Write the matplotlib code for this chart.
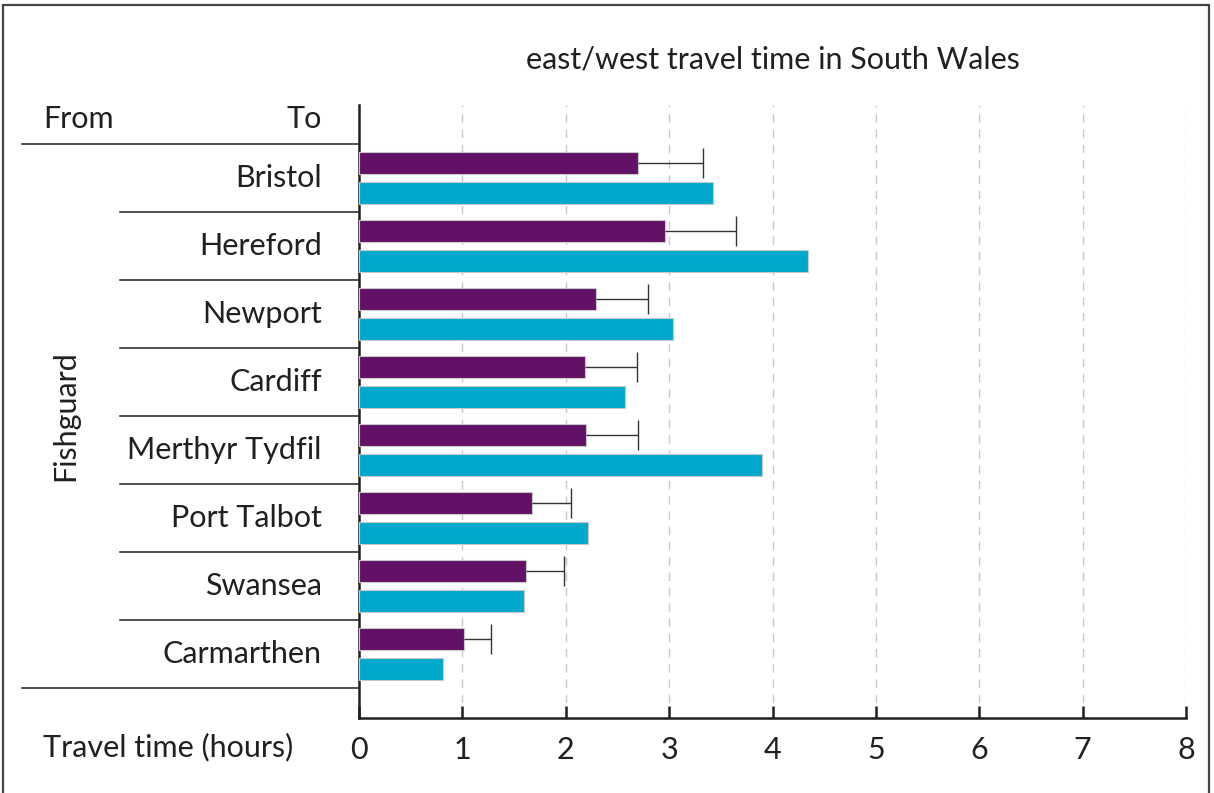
import matplotlib
matplotlib.use("Agg")
import matplotlib.pyplot as plt
import numpy as np
from matplotlib.patches import Rectangle

plt.rcParams["font.family"] = ["Lato", "DejaVu Sans"]

destinations = ["Bristol", "Hereford", "Newport", "Cardiff", "Merthyr Tydfil",
                "Port Talbot", "Swansea", "Carmarthen"]
# purple series with upper error, cyan series
purple = [2.70, 2.96, 2.29, 2.19, 2.20, 1.67, 1.62, 1.02]
purple_err = [0.63, 0.69, 0.51, 0.50, 0.50, 0.38, 0.36, 0.26]
cyan = [3.42, 4.34, 3.04, 2.57, 3.90, 2.22, 1.60, 0.81]
x_ticks = [0, 1, 2, 3, 4, 5, 6, 7, 8]

PURPLE = "#611166"
CYAN = "#00a9cc"
INK = "#231f20"
FS = 22

fig = plt.figure(figsize=(12.14, 7.93), dpi=100)
ax = fig.add_axes([359 / 1214, 1 - 718 / 793, 827 / 1214, 613 / 793])

y = np.arange(len(destinations))
h = 0.33
ax.barh(y - 0.22, purple, height=h, color=PURPLE, edgecolor="#c8c8c8", lw=0.8, zorder=3)
ax.barh(y + 0.22, cyan, height=h, color=CYAN, edgecolor="#c8c8c8", lw=0.8, zorder=3)

# one-sided error bars (upper only)
p = np.array(purple)
e = np.array(purple_err)
ax.hlines(y - 0.22, p, p + e, color="#333333", lw=1.0, zorder=4)
ax.vlines(p + e, y - 0.22 - 0.22, y - 0.22 + 0.22, color="#333333", lw=1.0, zorder=4)

ax.set_xlim(0, 8)
ax.set_ylim(7.5 + 30 / 68, -0.5 - 39 / 68)
ax.set_xticks(x_ticks)
ax.set_xticklabels([str(t) for t in x_ticks], fontsize=FS, color=INK)
ax.set_yticks([])
ax.tick_params(axis="x", direction="in", length=9, width=1.8, color=INK, pad=13)
for t in x_ticks[1:]:
    ax.axvline(t, color="#c8c8c8", lw=1.0, ls=(0, (6, 5)), zorder=1)

for s in ["top", "right"]:
    ax.spines[s].set_visible(False)
for s in ["left", "bottom"]:
    ax.spines[s].set_color(INK)
    ax.spines[s].set_linewidth(1.8)

# row labels and separators
tr = ax.get_yaxis_transform()
for i, name in enumerate(destinations):
    ax.text(-0.045, i, name, transform=tr, ha="right", va="center", fontsize=FS, color=INK)
for i in range(len(destinations) + 1):
    x0 = -0.4075 if i in (0, len(destinations)) else -0.289
    ax.plot([x0, 0], [i - 0.5, i - 0.5], transform=tr, color=INK, lw=1.1, clip_on=False)

head_y = -0.5 - 25 / 68
ax.text((43 - 359) / 827, head_y, "From", transform=tr,
        ha="left", va="center", fontsize=FS, color=INK)
ax.text(-0.045, head_y, "To", transform=tr, ha="right", va="center", fontsize=FS, color=INK)
ax.text((65 - 359) / 827, 3.5, "Fishguard", transform=tr, ha="center", va="center",
        rotation=90, fontsize=FS, color=INK)

fig.text(772.5 / 1214, 1 - 60 / 793, "east/west travel time in South Wales",
         ha="center", va="center", fontsize=FS, color=INK)
fig.text(43 / 1214, 1 - 747 / 793, "Travel time (hours)", ha="left", va="center",
         fontsize=FS, color=INK)

fig.patches.append(Rectangle((3 / 1214, -0.02), 1206 / 1214, 1.02 - 5 / 793,
                             transform=fig.transFigure, fill=False, ec="#444444", lw=1.6))

fig.savefig("out.png", dpi=100)
